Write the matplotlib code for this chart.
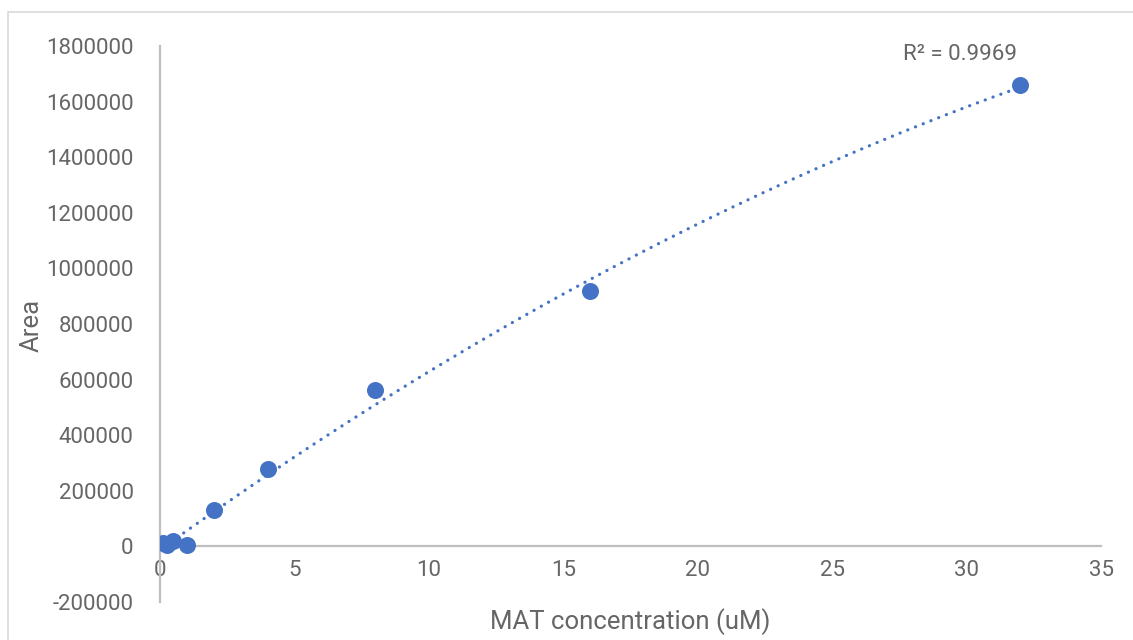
import numpy as np
import matplotlib
matplotlib.use("Agg")
import matplotlib.pyplot as plt
from matplotlib.patches import Rectangle

plt.rcParams['font.family'] = ['Roboto', 'DejaVu Sans']

# Standard curve: concentration (uM) vs. peak area
concentration = [0.125, 0.25, 0.5, 1, 2, 4, 8, 16, 32]
area = [11000, 6000, 18000, 3500, 130000, 277000, 561000, 918000, 1659000]
r2_label = "R² = 0.9969"

x_ticks = [0, 5, 10, 15, 20, 25, 30, 35]
y_ticks = [-200000, 0, 200000, 400000, 600000, 800000, 1000000,
           1200000, 1400000, 1600000, 1800000]

blue = "#4472C4"
text_gray = "#666666"
axis_gray = "#BFBFBF"

fig = plt.figure(figsize=(11.33, 6.40), dpi=100)
ax = fig.add_axes([160 / 1133, 1 - 602 / 640, (1101 - 160) / 1133, (602 - 46) / 640])

# light chart-area frame
fig.patches.append(Rectangle((8 / 1133, -0.1), 1.2, 1 - 12 / 640 + 0.1,
                             transform=fig.transFigure, fill=False,
                             edgecolor="#D9D9D9", linewidth=1.2))

# second-order polynomial trendline over the data range
coef = np.polyfit(concentration, area, 2)
xs = np.linspace(min(concentration), max(concentration), 400)
ax.plot(xs, np.polyval(coef, xs), color=blue, linewidth=2.3,
        linestyle=(0, (0.05, 2.55)), dash_capstyle="round", zorder=2)

ax.scatter(concentration, area, s=150, color=blue, zorder=3, linewidths=0)

ax.set_xlim(0, 35)
ax.set_ylim(-200000, 1800000)
ax.set_xticks(x_ticks)
ax.set_yticks(y_ticks)
ax.set_xticklabels([str(t) for t in x_ticks])
ax.set_yticklabels([str(t) for t in y_ticks])

for side in ("top", "right"):
    ax.spines[side].set_visible(False)
ax.spines["left"].set_position(("data", 0))
ax.spines["bottom"].set_position(("data", 0))
ax.spines["left"].set_color(axis_gray)
ax.spines["bottom"].set_color(axis_gray)
ax.spines["left"].set_linewidth(1.6)
ax.spines["bottom"].set_linewidth(1.6)

ax.tick_params(axis="both", length=0, labelsize=16, colors=text_gray)
ax.tick_params(axis="x", pad=10)
ax.tick_params(axis="y", pad=19)

fig.text(630 / 1133, 1 - 622 / 640, "MAT concentration (uM)", ha="center",
         va="center", fontsize=18.5, color=text_gray)
fig.text(32 / 1133, 1 - 325 / 640, "Area", ha="center", va="center",
         rotation=90, fontsize=18.5, color=text_gray)

ax.text(960 / 1133, 1 - 55 / 640, r2_label, transform=fig.transFigure,
        ha="center", va="center", fontsize=16, color=text_gray)

fig.savefig("out.png", dpi=100)
